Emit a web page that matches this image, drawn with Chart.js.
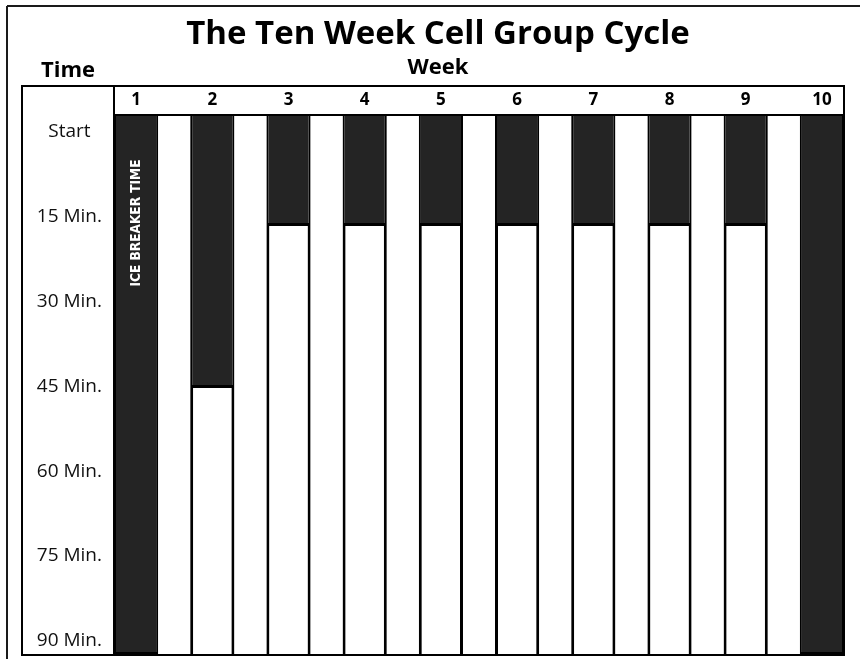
<!DOCTYPE html>
<html>
<head>
<meta charset="utf-8">
<script src="https://cdn.jsdelivr.net/npm/chart.js@4/dist/chart.umd.min.js"></script>
<style>
  html, body { margin: 0; padding: 0; background: #fff; }
  #wrap { width: 860px; height: 659px; position: relative; }
</style>
</head>
<body>
<div id="wrap"><canvas id="c" width="860" height="659"></canvas></div>
<script>
// ---- chart content ----
const titleText = 'The Ten Week Cell Group Cycle';
const xAxisTitle = 'Week';
const yAxisTitle = 'Time';
const iceBreakerLabel = 'ICE BREAKER TIME';

const weeks = [1, 2, 3, 4, 5, 6, 7, 8, 9, 10];
const weekLabels = ['1', '2', '3', '4', '5', '6', '7', '8', '9', '10'];

// minutes of the 90-minute meeting spent on the ice breaker, per week
const iceBreakerMinutes = [90, 45.5, 18.5, 18.5, 18.5, 18.5, 18.5, 18.5, 18.5, 90];
// remaining minutes of the meeting, per week
const remainingMinutes  = [0, 44.5, 71.5, 71.5, 71.5, 71.5, 71.5, 71.5, 71.5, 0];

const timeValues = [0, 15, 30, 45, 60, 75, 90];
const timeLabels = ['Start', '15 Min.', '30 Min.', '45 Min.', '60 Min.', '75 Min.', '90 Min.'];

// ---- styling ----
const BAR_FRAC = 0.58;
const DARK = '#242424';
const FONT = "'Open Sans', 'Noto Sans', sans-serif";
Chart.defaults.font.family = FONT;
Chart.defaults.color = '#111';

function line(ctx, x1, y1, x2, y2) {
  ctx.beginPath(); ctx.moveTo(x1, y1); ctx.lineTo(x2, y2); ctx.stroke();
}

const framePlugin = {
  id: 'frame',
  beforeDraw(chart) {
    const c = chart.ctx;
    c.save(); c.fillStyle = '#fff'; c.fillRect(0, 0, chart.width, chart.height); c.restore();
  },
  afterDatasetsDraw(chart) {
    const ctx = chart.ctx;
    const bar = chart.getDatasetMeta(0).data[0];
    const ys = chart.scales.y;
    const cy = ys.getPixelForValue(18);
    ctx.save();
    ctx.translate(bar.x, cy);
    ctx.rotate(-Math.PI / 2);
    ctx.font = "bold 14px 'DejaVu Sans Condensed', 'DejaVu Sans', sans-serif";
    const w = ctx.measureText(iceBreakerLabel).width;
    ctx.scale(127 / w, 1);
    ctx.fillStyle = '#fff';
    ctx.textAlign = 'center';
    ctx.textBaseline = 'middle';
    ctx.fillText(iceBreakerLabel, 0, 0);
    ctx.restore();
  },
  afterDraw(chart) {
    const ctx = chart.ctx;
    const a = chart.chartArea;
    const xs = chart.scales.x;
    const boxLeft = 22;
    const boxTop = xs.top;
    ctx.save();
    ctx.strokeStyle = '#000';
    ctx.lineWidth = 2;
    ctx.strokeRect(boxLeft, boxTop, a.right - boxLeft, a.bottom - boxTop);
    line(ctx, a.left, boxTop, a.left, a.bottom);
    line(ctx, a.left, a.top, a.right, a.top);
    ctx.strokeStyle = '#1a1a1a';
    line(ctx, 7, 6, chart.width, 6);
    line(ctx, 7, 6, 7, chart.height);
    ctx.fillStyle = '#000';
    ctx.font = "bold 22px " + FONT;
    ctx.textAlign = 'center';
    ctx.textBaseline = 'middle';
    const ty = (chart.titleBlock.bottom + xs.top) / 2;
    ctx.fillText(yAxisTitle, (boxLeft + a.left) / 2, ty);
    ctx.restore();
  }
};

new Chart(document.getElementById('c'), {
  type: 'bar',
  data: {
    datasets: [
      {
        label: 'Ice breaker',
        data: weeks.map((w, i) => ({ x: w, y: iceBreakerMinutes[i] })),
        backgroundColor: DARK,
        borderColor: '#000',
        borderWidth: { left: 2, right: 2, top: 0, bottom: 3 },
        borderSkipped: false,
        barPercentage: BAR_FRAC,
        categoryPercentage: 1,
        xAxisID: 'x', yAxisID: 'y'
      },
      {
        label: 'Rest of meeting',
        data: weeks.map((w, i) => ({ x: w, y: remainingMinutes[i] })),
        backgroundColor: '#fff',
        borderColor: '#000',
        borderWidth: { left: 3, right: 3, top: 0, bottom: 0 },
        borderSkipped: false,
        barPercentage: BAR_FRAC,
        categoryPercentage: 1,
        xAxisID: 'x', yAxisID: 'y'
      }
    ]
  },
  options: {
    responsive: false,
    animation: false,
    layout: { padding: { left: 32, right: 16, top: 5, bottom: 4 } },
    plugins: {
      legend: { display: false },
      tooltip: { enabled: false },
      title: {
        display: true, text: titleText, color: '#000',
        font: { size: 33, weight: 'bold' },
        padding: { top: 10, bottom: 0 }
      },
      subtitle: {
        display: true, text: xAxisTitle, color: '#000',
        font: { size: 22, weight: 'bold' },
        padding: { top: 0, bottom: 5 }
      }
    },
    scales: {
      x: {
        type: 'linear', position: 'top', stacked: true, offset: false,
        min: weeks[0] - BAR_FRAC / 2,
        max: weeks[weeks.length - 1] + BAR_FRAC / 2,
        afterBuildTicks: s => { s.ticks = weeks.map(v => ({ value: v })); },
        afterFit: s => { s.height = 29; s.paddingLeft = 0; s.paddingRight = 0; },
        ticks: {
          callback: (v, i) => weekLabels[i],
          font: { size: 17, weight: 'bold' }, color: '#000',
          padding: 5, maxRotation: 0, autoSkip: false
        },
        grid: { display: false, drawTicks: false, offset: false },
        border: { display: true, color: '#000', width: 2 }
      },
      y: { type: 'linear', stacked: true, reverse: true, min: 0, max: 90, display: false },
      yl: {
        type: 'linear', position: 'left', reverse: true, min: -3, max: 92.5,
        afterBuildTicks: s => { s.ticks = timeValues.map(v => ({ value: v })); },
        afterFit: s => { s.width = 82; s.paddingTop = 0; s.paddingBottom = 0; },
        ticks: {
          callback: (v, i) => timeLabels[i],
          crossAlign: 'center', padding: 12,
          font: { size: 19 }, color: '#111', autoSkip: false
        },
        grid: { display: false, drawTicks: false },
        border: { display: false }
      }
    }
  },
  plugins: [framePlugin]
});
</script>
</body>
</html>
